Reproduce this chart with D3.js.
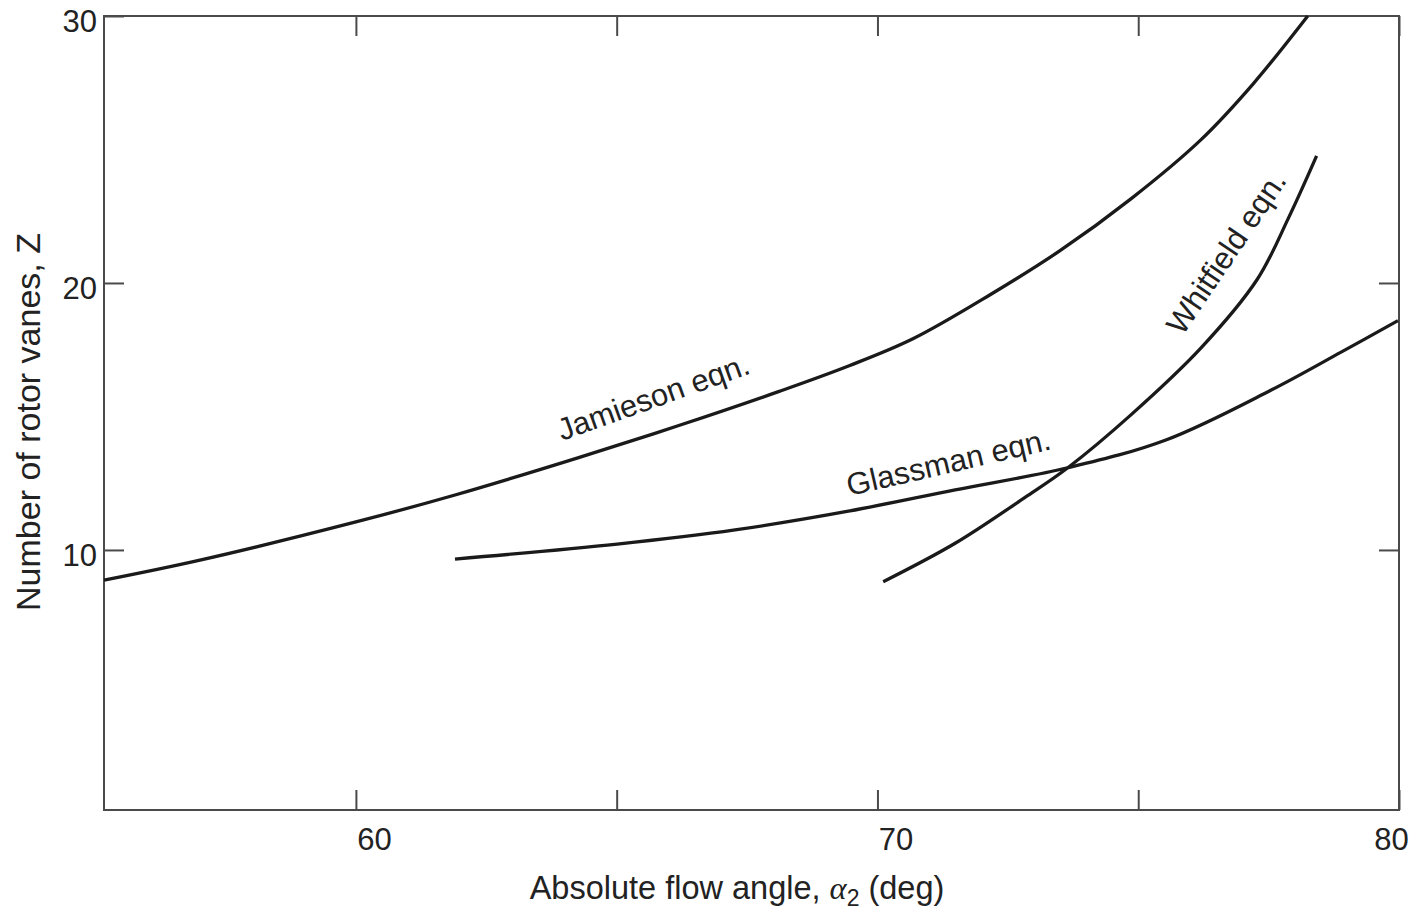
<!DOCTYPE html>
<html>
<head>
<meta charset="utf-8">
<script src="https://cdn.jsdelivr.net/npm/d3@7"></script>
<style>
  html, body { margin: 0; padding: 0; background: #fff; }
  svg { display: block; font-family: "Liberation Sans", Arial, sans-serif; }
</style>
</head>
<body>
<svg id="chart" width="1416" height="913"></svg>
<script>
// ---- Data ----
const jamiesonX = [55.17, 57.01, 60.00, 61.90, 64.24, 66.22, 68.13, 69.47, 70.68, 72.16, 73.50, 74.86, 76.20, 77.20, 78.25];
const jamiesonZ = [8.87, 9.62, 11.05, 12.06, 13.44, 14.68, 15.95, 16.91, 17.91, 19.56, 21.21, 23.15, 25.36, 27.45, 30.0];

const glassmanX = [61.90, 65.01, 67.27, 69.47, 71.49, 73.65, 75.53, 77.55, 78.89, 79.98];
const glassmanZ = [9.66, 10.22, 10.75, 11.46, 12.25, 13.08, 14.12, 15.99, 17.41, 18.59];

const whitfieldX = [70.11, 71.49, 72.83, 73.65, 74.86, 76.20, 77.28, 77.88, 78.42];
const whitfieldZ = [8.81, 10.25, 11.97, 13.08, 15.06, 17.56, 20.13, 22.43, 24.76];

const xTicks = [60, 65, 70, 75, 80];
const xTickLabels = ["60", "", "70", "", "80"];
const yTicks = [10, 20, 30];
const yTickLabels = ["10", "20", "30"];
const curveLabels = ["Jamieson eqn.", "Glassman eqn.", "Whitfield eqn."];
const xTitle = "Absolute flow angle, ";
const yTitle = "Number of rotor vanes, Z";

// ---- Layout ----
const svg = d3.select("#chart");
const L = 104, R = 1399, T = 16, B = 810;
const x = d3.scaleLinear().domain([55.17, 80]).range([L, R]);
const y = d3.scaleLinear().domain([0.26, 30]).range([B, T]);
const frameColor = "#4a4a4a";
const textColor = "#222";
const tickLen = 20;

// frame
svg.append("rect")
  .attr("x", L).attr("y", T).attr("width", R - L).attr("height", B - T)
  .attr("fill", "none").attr("stroke", frameColor).attr("stroke-width", 2);

// bottom axis (ticks inward, labels below)
const gB = svg.append("g").attr("transform", `translate(0,${B})`)
  .call(d3.axisBottom(x).tickValues(xTicks).tickSize(-tickLen).tickFormat((d, i) => xTickLabels[i]).tickPadding(18));
// top axis (ticks inward, no labels)
const gT = svg.append("g").attr("transform", `translate(0,${T})`)
  .call(d3.axisTop(x).tickValues(xTicks).tickSize(-tickLen).tickFormat(""));
// left axis
const gL = svg.append("g").attr("transform", `translate(${L},0)`)
  .call(d3.axisLeft(y).tickValues(yTicks).tickSize(-tickLen).tickFormat((d, i) => yTickLabels[i]).tickPadding(7));
// right axis
const gR = svg.append("g").attr("transform", `translate(${R},0)`)
  .call(d3.axisRight(y).tickValues([10, 20]).tickSize(-tickLen).tickFormat(""));

[gB, gT, gL, gR].forEach(g => {
  g.select(".domain").remove();
  g.selectAll(".tick line").attr("stroke", frameColor).attr("stroke-width", 2);
  g.selectAll(".tick text").attr("fill", textColor).attr("font-size", 31)
    .attr("font-family", "'Liberation Sans', Arial, sans-serif");
});
gB.selectAll(".tick text").attr("dy", "0.71em")
  .attr("dx", d => d === 80 ? -8 : 18);
gL.selectAll(".tick text").attr("dy", "0.38em").attr("y", 4);

// curves
const line = d3.line().x(d => x(d[0])).y(d => y(d[1])).curve(d3.curveCatmullRom.alpha(0.5));
const series = [
  d3.zip(jamiesonX, jamiesonZ),
  d3.zip(glassmanX, glassmanZ),
  d3.zip(whitfieldX, whitfieldZ)
];
svg.append("g").selectAll("path").data(series).join("path")
  .attr("d", line)
  .attr("fill", "none").attr("stroke", "#1a1a1a").attr("stroke-width", 3.3)
  .attr("stroke-linecap", "butt");

// curve labels
const labelPos = [
  {vx: 63.95, vz: 14.08, rot: -19.7},
  {vx: 69.46, vz: 12.02, rot: -13},
  {vx: 75.85, vz: 18.0, rot: -56}
];
curveLabels.forEach((t, i) => {
  const p = labelPos[i];
  svg.append("text")
    .attr("transform", `translate(${x(p.vx)},${y(p.vz)}) rotate(${p.rot})`)
    .attr("font-size", 31).attr("fill", textColor)
    .text(t);
});

// x title
const xt = svg.append("text")
  .attr("x", 737).attr("y", 899)
  .attr("text-anchor", "middle").attr("font-size", 32.5).attr("fill", textColor);
xt.append("tspan").text(xTitle);
xt.append("tspan").attr("font-style", "italic").attr("font-family", "'Liberation Serif', 'Times New Roman', serif").text("α");
xt.append("tspan").attr("font-size", 23).attr("dy", 7).text("2");
xt.append("tspan").attr("dy", -7).text(" (deg)");

// y title
svg.append("text")
  .attr("transform", `translate(40,422) rotate(-90)`)
  .attr("text-anchor", "middle").attr("font-size", 34).attr("fill", textColor)
  .text(yTitle);
</script>
</body>
</html>
